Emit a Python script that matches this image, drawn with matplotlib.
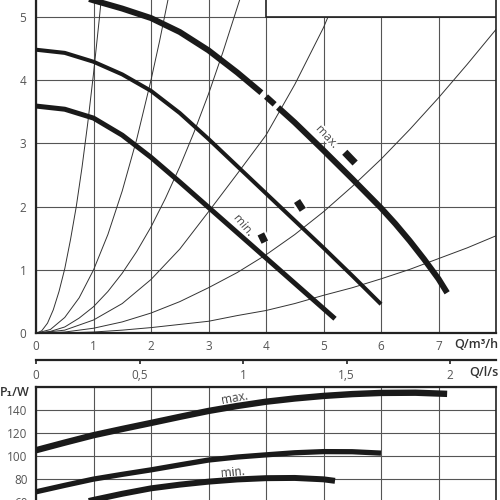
import numpy as np
import matplotlib
matplotlib.use("Agg")
import matplotlib.pyplot as plt
from matplotlib import patheffects as pe
from matplotlib.patches import Rectangle

plt.rcParams['font.family'] = ['Open Sans', 'DejaVu Sans']

# ---------------- data ----------------
q_ticks = [0, 1, 2, 3, 4, 5, 6, 7, 8]
q_ticklabels = ['0', '1', '2', '3', '4', '5', '6', '7', '']
ls_ticks = [0, 0.5, 1, 1.5, 2]
ls_ticklabels = ['0', '0,5', '1', '1,5', '2']
h_ticks = [0, 1, 2, 3, 4, 5]
h_ticklabels = ['0', '1', '2', '3', '4', '5']
p_ticks = [40, 60, 80, 100, 120, 140, 160]
p_ticklabels = ['', '60', '80', '100', '120', '140', '']

# pump curves H(Q)
h_max_q = [0, 0.5, 0.75, 1, 1.5, 2, 2.5, 3, 3.5, 4, 4.5, 5, 5.5, 6, 6.25, 6.5, 6.75, 7, 7.15]
h_max_h = [5.42, 5.38, 5.33, 5.26, 5.13, 4.98, 4.76, 4.47, 4.12, 3.74, 3.33, 2.89, 2.44, 1.98,
           1.73, 1.46, 1.17, 0.86, 0.64]
h_max_gaps = [(3.92, 4.0), (4.15, 4.21)]
h_mid_q = [0, 0.5, 1, 1.5, 2, 2.5, 3, 3.5, 4, 4.5, 5, 5.5, 6.0]
h_mid_h = [4.48, 4.43, 4.29, 4.09, 3.83, 3.48, 3.07, 2.64, 2.21, 1.78, 1.35, 0.91, 0.46]
h_min_q = [0, 0.5, 1, 1.5, 2, 2.5, 3, 3.5, 4, 4.5, 5, 5.2]
h_min_h = [3.59, 3.54, 3.40, 3.13, 2.78, 2.39, 1.99, 1.59, 1.19, 0.79, 0.39, 0.23]

# system curves (thin)
sys_a_q = [0, 0.1, 0.2, 0.3, 0.4, 0.5, 0.6, 0.7, 0.8, 0.9, 1.0, 1.1, 1.15]
sys_a_h = [0, 0.04, 0.16, 0.37, 0.66, 1.02, 1.48, 2.0, 2.62, 3.32, 4.1, 4.96, 5.42]
sys_b_q = [0, 0.25, 0.5, 0.75, 1, 1.25, 1.5, 1.75, 2, 2.15, 2.3]
sys_b_h = [0, 0.06, 0.25, 0.56, 1, 1.56, 2.25, 3.06, 4.0, 4.62, 5.29]
sys_c_q = [0, 0.25, 0.5, 0.75, 1, 1.25, 1.5, 1.75, 2, 2.25, 2.5, 2.75, 3, 3.25, 3.55]
sys_c_h = [0, 0.03, 0.1, 0.24, 0.42, 0.66, 0.95, 1.29, 1.68, 2.13, 2.63, 3.18, 3.78, 4.44, 5.29]
sys_d_q = [0, 0.5, 1, 1.5, 2, 2.5, 3, 3.5, 4, 4.5, 5, 5.2]
sys_d_h = [0, 0.05, 0.21, 0.47, 0.85, 1.33, 1.92, 2.52, 3.13, 3.93, 4.83, 5.26]
sys_e_q = [0, 0.5, 1, 1.5, 2, 2.5, 3, 3.5, 4, 4.5, 5, 5.5, 6, 6.5, 7, 7.5, 8]
sys_e_h = [0, 0.02, 0.08, 0.18, 0.32, 0.5, 0.72, 0.96, 1.24, 1.56, 1.92, 2.32, 2.75, 3.22, 3.72, 4.25, 4.8]
sys_f_q = [0, 0.5, 1, 1.5, 2, 2.5, 3, 3.5, 4, 4.5, 5, 5.5, 6, 6.5, 7, 7.5, 8]
sys_f_h = [0, 0.006, 0.02, 0.05, 0.09, 0.14, 0.19, 0.28, 0.36, 0.47, 0.6, 0.72, 0.86, 1.01, 1.18, 1.35, 1.54]

# operating-point markers
mk_max_q, mk_max_h = [5.37, 5.55], [2.86, 2.69]
mk_mid_q, mk_mid_h = [4.54, 4.64], [2.09, 1.95]
mk_min_q, mk_min_h = [3.91, 3.98], [1.57, 1.44]

# power curves P1(Q)
p_max_q = [0, 0.5, 1, 1.5, 2, 2.5, 3, 3.5, 4, 4.5, 5, 5.5, 6, 6.6, 7.15]
p_max = [105, 111.6, 118, 123.4, 128.6, 133.9, 139, 143.3, 147, 149.8, 152, 153.6, 154.6, 154.8, 153.8]
p_mid_q = [0, 0.5, 1, 1.5, 2, 2.5, 3, 3.5, 4, 4.5, 5, 5.5, 6]
p_mid = [69, 74.6, 80, 84.1, 88, 92.3, 96.5, 99.1, 101, 102.8, 103.8, 103.7, 102.5]
p_min_q = [0, 0.5, 1, 1.5, 2, 2.5, 3, 3.5, 4, 4.5, 5, 5.2]
p_min = [50, 56.2, 62, 67.3, 72, 75.2, 77.8, 79.7, 80.8, 81, 79.8, 78.5]

# ---------------- figure ----------------
W = H = 500
fig = plt.figure(figsize=(5, 5), dpi=100)

def fx(px):
    return px / W

def fy(py):
    return 1 - py / H

tick_col = '#555555'
grid_col = '#555555'
curve_col = '#1a1a1a'
thin_col = '#333333'

# top axes: H vs Q
ax = fig.add_axes([fx(36), fy(333.3), 460 / W, 333.3 / H])
ax.set_xlim(0, 8)
ax.set_ylim(0, 333.3 / 63.3)
ax.set_xticks(q_ticks)
ax.set_xticklabels(q_ticklabels)
ax.set_yticks(h_ticks)
ax.set_yticklabels(h_ticklabels)
ax.tick_params(length=0, labelsize=8.5, labelcolor=tick_col)
ax.tick_params(axis='x', pad=5)
ax.tick_params(axis='y', pad=7)
ax.grid(True, color=grid_col, lw=0.8)
ax.set_axisbelow(True)
ax.spines['top'].set_visible(False)
ax.spines['left'].set_linewidth(1.6)
ax.spines['bottom'].set_linewidth(1.6)
ax.spines['right'].set_linewidth(1.2)
for s in ax.spines.values():
    s.set_color('#222222')

for qq, hh in [(sys_a_q, sys_a_h), (sys_b_q, sys_b_h), (sys_c_q, sys_c_h),
               (sys_d_q, sys_d_h), (sys_e_q, sys_e_h), (sys_f_q, sys_f_h)]:
    ax.plot(qq, hh, color=thin_col, lw=0.7, zorder=2)

# max curve with gaps
mq = np.array(h_max_q)
mh = np.array(h_max_h)
edges = [mq[0]]
for a, b in h_max_gaps:
    edges += [a, b]
edges.append(mq[-1])
for i in range(0, len(edges), 2):
    lo, hi = edges[i], edges[i + 1]
    sel = (mq > lo) & (mq < hi)
    qs = np.concatenate([[lo], mq[sel], [hi]])
    hs = np.interp(qs, mq, mh)
    ax.plot(qs, hs, color=curve_col, lw=4.3, solid_capstyle='butt',
            solid_joinstyle='round', zorder=4)

ax.plot(h_mid_q, h_mid_h, color=curve_col, lw=2.9, solid_capstyle='butt',
        solid_joinstyle='round', zorder=4)
ax.plot(h_min_q, h_min_h, color=curve_col, lw=3.6, solid_capstyle='butt',
        solid_joinstyle='round', zorder=4)

halo = [pe.Stroke(linewidth=8.5, foreground='white'), pe.Normal()]
for qq, hh in [(mk_max_q, mk_max_h), (mk_mid_q, mk_mid_h), (mk_min_q, mk_min_h)]:
    ax.plot(qq, hh, color=curve_col, lw=5.2, solid_capstyle='butt', zorder=5,
            path_effects=halo)

thalo = [pe.withStroke(linewidth=3, foreground='white')]
ax.text(5.07, 3.11, 'max.', rotation=-47, ha='center', va='center',
        rotation_mode='anchor', fontsize=8.5, color='#444444', zorder=6,
        path_effects=thalo)
ax.text(3.62, 1.71, 'min.', rotation=-50, ha='center', va='center',
        rotation_mode='anchor', fontsize=8.5, color='#444444', zorder=6,
        path_effects=thalo)

ax.add_patch(Rectangle((4, 5.0), 4, 1, facecolor='white', edgecolor='#222222',
                       lw=1.2, zorder=3, clip_on=True))

# secondary axis Q in l/s
sec = ax.secondary_xaxis(-27 / 333.3, functions=(lambda q: q / 3.6, lambda l: l * 3.6))
sec.set_xticks(ls_ticks)
sec.set_xticklabels(ls_ticklabels)
sec.tick_params(direction='out', length=3, width=1.2, pad=3, labelsize=8.5,
                labelcolor=tick_col, color='#222222')
sec.spines['bottom'].set_linewidth(1.6)
sec.spines['bottom'].set_color('#222222')

# bottom axes: P1 vs Q
ppx = 1.155
bax = fig.add_axes([fx(36), fy(386.7 + 120 * ppx), 460 / W, 120 * ppx / H])
bax.set_xlim(0, 8)
bax.set_ylim(40, 160)
bax.set_xticks(q_ticks)
bax.set_xticklabels([])
bax.set_yticks(p_ticks)
bax.set_yticklabels(p_ticklabels)
bax.tick_params(length=0, labelsize=8.5, labelcolor=tick_col)
bax.tick_params(axis='y', pad=6)
bax.grid(True, color=grid_col, lw=0.8)
bax.set_axisbelow(True)
bax.spines['top'].set_linewidth(1.6)
bax.spines['left'].set_linewidth(1.6)
bax.spines['right'].set_linewidth(1.2)
for s in bax.spines.values():
    s.set_color('#222222')

bax.plot(p_max_q, p_max, color=curve_col, lw=4.6, solid_capstyle='butt',
         solid_joinstyle='round', zorder=4)
bax.plot(p_mid_q, p_mid, color=curve_col, lw=3.8, solid_capstyle='butt',
         solid_joinstyle='round', zorder=4)
bax.plot(p_min_q, p_min, color=curve_col, lw=4.3, solid_capstyle='butt',
         solid_joinstyle='round', zorder=4)
bax.text(3.46, 150.2, 'max.', rotation=10, ha='center', va='center',
         rotation_mode='anchor', fontsize=8.5, color='#444444', zorder=6)
bax.text(3.43, 85.7, 'min.', rotation=5, ha='center', va='center',
         rotation_mode='anchor', fontsize=8.5, color='#444444', zorder=6)

# axis titles
fig.text(fx(498), fy(344), 'Q/m³/h', ha='right', va='center', fontsize=9,
         fontweight='semibold', color='#333333')
fig.text(fx(498), fy(373), 'Q/l/s', ha='right', va='center', fontsize=9,
         fontweight='semibold', color='#333333')
fig.text(fx(0), fy(392), 'P₁/W', ha='left', va='center', fontsize=9,
         fontweight='semibold', color='#333333')

fig.savefig('out.png', dpi=100)
